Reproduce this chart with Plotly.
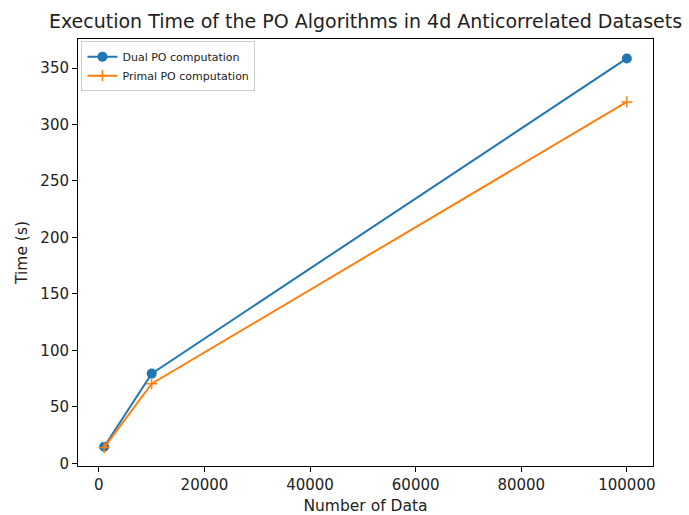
import plotly.graph_objects as go

# Dataset sizes and measured execution times (seconds)
num_data = [1000, 10000, 100000]
dual_time = [14.8, 79.5, 358.5]
primal_time = [14.0, 70.5, 320.0]

x_ticks = [0, 20000, 40000, 60000, 80000, 100000]
y_ticks = [0, 50, 100, 150, 200, 250, 300, 350]

font_family = "DejaVu Sans"

fig = go.Figure()
fig.add_trace(go.Scatter(
    x=num_data, y=dual_time, mode="lines+markers", name="Dual PO computation",
    line=dict(color="#1f77b4", width=2),
    marker=dict(symbol="circle", size=10, color="#1f77b4"),
))
fig.add_trace(go.Scatter(
    x=num_data, y=primal_time, mode="lines+markers", name="Primal PO computation",
    line=dict(color="#ff7f0e", width=2),
    marker=dict(symbol="cross-thin", size=8, line=dict(color="#ff7f0e", width=1.5)),
))

axis_common = dict(
    showline=True, linecolor="black", linewidth=1, mirror=True,
    ticks="outside", ticklen=5, tickwidth=1, tickcolor="black",
    showgrid=False, zeroline=False, automargin=False,
    tickfont=dict(family=font_family, size=15, color="#222"),
)

fig.update_layout(
    width=689, height=515,
    margin=dict(l=78, r=36, t=39, b=49),
    paper_bgcolor="white", plot_bgcolor="white",
    font=dict(family=font_family, color="#222"),
    title=dict(
        text="Execution Time of the PO Algorithms in 4d Anticorrelated Datasets",
        x=(78 + 653) / 2 / 689, xanchor="center", y=0.958, yanchor="middle",
        font=dict(family=font_family, size=19, color="#222"),
    ),
    xaxis=dict(
        range=[-3950, 104950], tickvals=x_ticks, ticktext=[str(v) for v in x_ticks],
        title=dict(text="Number of Data", font=dict(family=font_family, size=15.5), standoff=8),
        **axis_common,
    ),
    yaxis=dict(
        range=[-2.3, 375.7], tickvals=y_ticks, ticktext=[str(v) for v in y_ticks],
        title=dict(text="Time (s)", font=dict(family=font_family, size=15.5), standoff=8),
        **axis_common,
    ),
    legend=dict(
        x=0.006, y=0.995, xanchor="left", yanchor="top",
        bgcolor="rgba(255,255,255,0.8)", bordercolor="#cccccc", borderwidth=1,
        font=dict(family=font_family, size=11, color="#222"),
        itemwidth=30, tracegroupgap=0,
    ),
    showlegend=True,
)

fig.write_html("out.html")
